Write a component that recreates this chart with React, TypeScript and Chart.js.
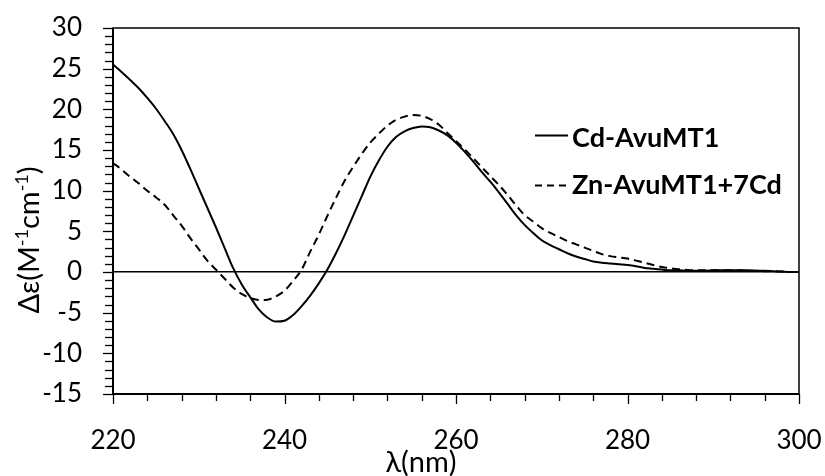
import { useEffect, useRef } from 'react';
import { Chart, registerables } from 'chart.js';

Chart.register(...registerables);

const wavelengths = [
  220, 221, 222, 223, 224, 225, 226, 227, 228, 229,
  230, 231, 232, 233, 234, 235, 236, 237, 238, 239,
  240, 241, 242, 243, 244, 245, 246, 247, 248, 249,
  250, 251, 252, 253, 254, 255, 256, 257, 258, 259,
  260, 261, 262, 263, 264, 265, 266, 267, 268, 269,
  270, 271, 272, 273, 274, 275, 276, 277, 278, 279,
  280, 281, 282, 283, 284, 285, 286, 287, 288, 289,
  290, 291, 292, 293, 294, 295, 296, 297, 298, 299, 300,
];

const cdAvuMT1 = [
  25.5, 24.6, 23.6, 22.6, 21.4, 20.1, 18.6, 17.0, 15.0, 12.7,
  10.3, 7.9, 5.5, 3.0, 0.5, -1.5, -3.1, -4.6, -5.6, -6.1,
  -6.0, -5.3, -4.2, -2.9, -1.4, 0.3, 2.3, 4.5, 6.9, 9.3,
  11.7, 13.7, 15.4, 16.6, 17.3, 17.7, 17.9, 17.8, 17.4, 16.8,
  15.9, 14.8, 13.6, 12.3, 11.1, 9.8, 8.4, 7.0, 5.8, 4.8,
  3.9, 3.3, 2.8, 2.3, 1.9, 1.6, 1.3, 1.15, 1.05, 0.95,
  0.85, 0.7, 0.5, 0.4, 0.3, 0.2, 0.2, 0.15, 0.15, 0.15,
  0.2, 0.2, 0.2, 0.2, 0.2, 0.15, 0.15, 0.1, 0.05, 0.0, 0.0,
];

const znAvuMT1_7Cd = [
  13.4, 12.6, 11.7, 10.9, 10.0, 9.2, 8.3, 7.0, 5.7, 4.2,
  2.8, 1.4, 0.3, -0.8, -1.9, -2.7, -3.2, -3.45, -3.4, -3.0,
  -2.3, -1.1, 0.3, 2.5, 4.6, 6.9, 9.1, 11.2, 12.9, 14.5,
  15.9, 17.0, 18.0, 18.7, 19.1, 19.3, 19.2, 18.8, 18.1, 17.1,
  16.1, 15.1, 14.0, 12.9, 11.8, 10.7, 9.5, 8.2, 7.0, 6.2,
  5.4, 4.8, 4.3, 3.8, 3.4, 3.0, 2.6, 2.2, 1.95, 1.8,
  1.65, 1.4, 1.15, 0.85, 0.62, 0.45, 0.35, 0.25, 0.2, 0.2,
  0.2, 0.2, 0.2, 0.2, 0.15, 0.15, 0.1, 0.1, 0.05, 0.0, 0.0,
];

const seriesNames = ['Cd-AvuMT1', 'Zn-AvuMT1+7Cd'];
const xTickLabels = [220, 240, 260, 280, 300];
const yTickLabels = [-15, -10, -5, 0, 5, 10, 15, 20, 25, 30];

const FONT = 'Lato, "Open Sans", sans-serif';

const decorPlugin = {
  id: 'decor',
  afterDraw(chart: any) {
    const { ctx, chartArea: ca, scales } = chart;
    const xs = scales.x;
    const ys = scales.y;
    ctx.save();
    ctx.strokeStyle = '#000';
    ctx.lineWidth = 1.5;
    ctx.strokeRect(ca.left, ca.top, ca.right - ca.left, ca.bottom - ca.top);
    ctx.lineWidth = 2;
    ctx.beginPath();
    ctx.moveTo(ca.left, ca.top);
    ctx.lineTo(ca.left, ca.bottom);
    ctx.lineTo(ca.right, ca.bottom);
    ctx.stroke();

    // tick marks
    ctx.lineWidth = 1.3;
    ys.ticks.forEach((t: any) => {
      const py = Math.round(ys.getPixelForValue(t.value)) + 0.5;
      const len = yTickLabels.includes(t.value) ? 10 : 8;
      ctx.beginPath();
      ctx.moveTo(ca.left - len, py);
      ctx.lineTo(ca.left, py);
      ctx.stroke();
    });
    xs.ticks.forEach((t: any) => {
      const px = Math.round(xs.getPixelForValue(t.value)) + 0.5;
      const len = xTickLabels.includes(t.value) ? 10 : 7;
      ctx.beginPath();
      ctx.moveTo(px, ca.bottom);
      ctx.lineTo(px, ca.bottom + len);
      ctx.stroke();
    });

    // y title with superscripts
    ctx.fillStyle = '#000';
    const big = `29px ${FONT}`;
    const small = `18px ${FONT}`;
    const parts: [string, boolean][] = [
      ['Δε(M', false],
      ['-1', true],
      ['cm', false],
      ['-1', true],
      [')', false],
    ];
    let total = 0;
    parts.forEach(([s, sup]) => {
      ctx.font = sup ? small : big;
      total += ctx.measureText(s).width;
    });
    ctx.save();
    ctx.translate(39, 240);
    ctx.rotate(-Math.PI / 2);
    ctx.textBaseline = 'alphabetic';
    ctx.textAlign = 'left';
    let cx = -total / 2;
    parts.forEach(([s, sup]) => {
      ctx.font = sup ? small : big;
      ctx.fillText(s, cx, sup ? -11 : 0);
      cx += ctx.measureText(s).width;
    });
    ctx.restore();

    // x title
    ctx.font = `29px ${FONT}`;
    ctx.textAlign = 'center';
    ctx.textBaseline = 'alphabetic';
    ctx.fillText('λ(nm)', 421, 472);

    // legend
    ctx.lineWidth = 2;
    ctx.beginPath();
    ctx.moveTo(535, 135.5);
    ctx.lineTo(568, 135.5);
    ctx.stroke();
    ctx.setLineDash([7, 5]);
    ctx.beginPath();
    ctx.moveTo(535, 185.5);
    ctx.lineTo(568, 185.5);
    ctx.stroke();
    ctx.setLineDash([]);
    ctx.font = `bold 27px ${FONT}`;
    ctx.textAlign = 'left';
    ctx.fillText(seriesNames[0], 572, 147);
    ctx.fillText(seriesNames[1], 572, 194);
    ctx.restore();
  },
};

export default function App() {
  const ref = useRef<HTMLCanvasElement | null>(null);
  useEffect(() => {
    document.body.style.margin = '0';
    const canvas = ref.current;
    if (!canvas) return;
    const chart = new Chart(canvas, {
      type: 'line',
      data: {
        datasets: [
          {
            label: seriesNames[0],
            data: wavelengths.map((w, i) => ({ x: w, y: cdAvuMT1[i] })),
            borderColor: '#000',
            borderWidth: 2,
            pointRadius: 0,
            cubicInterpolationMode: 'monotone',
            fill: false,
          },
          {
            label: seriesNames[1],
            data: wavelengths.map((w, i) => ({ x: w, y: znAvuMT1_7Cd[i] })),
            borderColor: '#000',
            borderWidth: 2,
            borderDash: [8, 5],
            pointRadius: 0,
            cubicInterpolationMode: 'monotone',
            fill: false,
          },
        ],
      },
      options: {
        animation: false,
        responsive: false,
        devicePixelRatio: 1,
        layout: { padding: { top: 28, right: 26, left: 0, bottom: 0 } },
        plugins: {
          legend: { display: false },
          tooltip: { enabled: false },
        },
        scales: {
          x: {
            type: 'linear',
            min: 220,
            max: 300,
            grid: { display: false },
            border: { display: false },
            ticks: {
              stepSize: 4,
              autoSkip: false,
              maxRotation: 0,
              color: '#000',
              padding: 23,
              font: { family: FONT, size: 26 },
              callback: (v: any) => (xTickLabels.includes(v) ? String(v) : ''),
            },
            afterFit: (s: any) => {
              s.height = 82;
              s.paddingLeft = 0;
              s.paddingRight = 0;
            },
          },
          y: {
            type: 'linear',
            min: -15,
            max: 30,
            grid: {
              drawTicks: false,
              color: (c: any) => (c.tick && c.tick.value === 0 ? '#000' : 'rgba(0,0,0,0)'),
              lineWidth: 1.5,
            },
            border: { display: false },
            ticks: {
              stepSize: 1,
              autoSkip: false,
              color: '#000',
              padding: 31,
              font: { family: FONT, size: 26 },
              callback: (v: any) => (yTickLabels.includes(v) ? String(v) : ''),
            },
            afterFit: (s: any) => {
              s.width = 113;
              s.paddingTop = 0;
              s.paddingBottom = 0;
            },
          },
        },
      },
      plugins: [decorPlugin],
    });
    return () => chart.destroy();
  }, []);
  return (
    <div style={{ position: 'fixed', left: 0, top: 0, width: 825, height: 476, background: '#fff' }}>
      <canvas ref={ref} width={825} height={476} />
    </div>
  );
}
